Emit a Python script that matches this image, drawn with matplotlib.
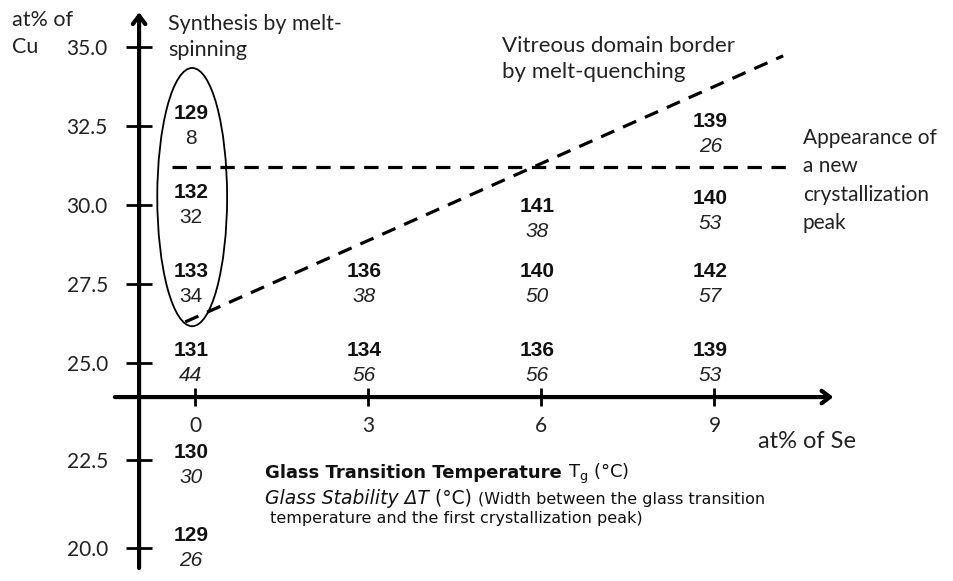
import matplotlib
matplotlib.use('Agg')
import matplotlib.pyplot as plt
from matplotlib.patches import Ellipse
from matplotlib.offsetbox import TextArea, HPacker, VPacker, AnnotationBbox
import numpy as np

# compositions (at% Se, at% Cu) where each value pair is drawn, and values
se = [0, 0, 0, 0, 0, 0, 3, 3, 6, 6, 6, 9, 9, 9, 9]
cu = [32.5, 30, 27.5, 25, 22.35, 20, 27.5, 25, 29.55, 27.5, 25, 32.25, 29.8, 27.5, 25]
tg = [129, 132, 133, 131, 130, 129, 136, 134, 141, 140, 136, 139, 140, 142, 139]
dt = [8, 32, 34, 44, 30, 26, 38, 56, 38, 50, 56, 26, 53, 57, 53]
melt_spun = [True, True, True] + [False] * 12

y_ticks = [20.0, 22.5, 25.0, 27.5, 30.0, 32.5, 35.0]
x_ticks = [0, 3, 6, 9]

# dashed guide lines
border_se = [-0.17, 10.19]
border_cu = [26.3, 34.72]
peak_se = [-0.4, 10.3]
peak_cu = 31.2

# ellipse around melt-spun samples
ell_center = (-0.05, 30.25)
ell_w, ell_h = 1.21, 8.17

# broken y axis: below the Se axis the spacing is stretched
brk_vals = np.array([18, 20, 22.5, 24, 25, 35, 37])
brk_pix = np.array([618, 548, 460, 397, 363, 47, -16])


def fwd(v):
    return -np.interp(v, brk_vals, brk_pix)


def inv(p):
    return np.interp(-np.asarray(p), brk_pix[::-1], brk_vals[::-1])


NUM = 'Liberation Sans'
LBL = 'Lato'
LEG = 'DejaVu Sans'
TXT = '#222222'

fig = plt.figure(figsize=(9.54, 5.81), dpi=100)
ax = fig.add_axes([0, 0, 1, 1])
ax.set_yscale('function', functions=(fwd, inv))
ax.set_xlim(-3.38, 13.15)
ax.set_ylim(19.06, 36.49)

x_axis_y = 24.0
y_axis_x = -0.97

for s in ['top', 'right']:
    ax.spines[s].set_visible(False)
ax.spines['left'].set_position(('data', y_axis_x))
ax.spines['bottom'].set_position(('data', x_axis_y))
ax.spines['left'].set_color('none')
ax.spines['bottom'].set_color('none')

ax.set_yticks(y_ticks)
ax.set_yticklabels(['%.1f' % v for v in y_ticks])
ax.yaxis.set_minor_locator(matplotlib.ticker.NullLocator())
ax.set_xticks(x_ticks)
ax.set_xticklabels([str(v) for v in x_ticks])
ax.tick_params(axis='y', direction='inout', length=19, width=2, pad=13,
               labelsize=15, colors='black')
ax.tick_params(axis='x', direction='inout', length=13, width=2, pad=7,
               labelsize=15, colors='black')
for lab in ax.get_xticklabels() + ax.get_yticklabels():
    lab.set_family(LBL)
    lab.set_color(TXT)

arrow = dict(arrowstyle='->,head_length=0.6,head_width=0.45', lw=3,
             color='black', shrinkA=0, shrinkB=0)
ax.annotate('', xy=(y_axis_x, 36.1), xytext=(y_axis_x, 19.43), arrowprops=arrow,
            annotation_clip=False)
ax.annotate('', xy=(11.06, x_axis_y), xytext=(-1.39, x_axis_y), arrowprops=arrow,
            annotation_clip=False)

# guide lines
ax.plot(border_se, border_cu, color='black', lw=2.3, ls=(0, (4.5, 3)))
ax.plot(peak_se, [peak_cu, peak_cu], color='black', lw=2.3, ls=(0, (4.5, 3)))
ax.add_patch(Ellipse(ell_center, ell_w, ell_h, fc='none', ec='black', lw=1.3))

# values
for x, y, t, d, ms in zip(se, cu, tg, dt, melt_spun):
    ax.annotate(str(t), xy=(x, y), xytext=(-3, 9), textcoords='offset points',
                ha='center', va='center', fontsize=15, fontweight='bold',
                family=NUM, color='#111111')
    ax.annotate(str(d), xy=(x, y), xytext=(-3, -9), textcoords='offset points',
                ha='center', va='center', fontsize=15,
                style='normal' if ms else 'italic', family=NUM, color=TXT)

# labels
W, H = 954, 581
fig.text(12 / W, 1 - 20 / H, 'at% of', family=LBL, fontsize=15.5,
         va='center', ha='left', color=TXT)
fig.text(12 / W, 1 - 47 / H, 'Cu', family=LBL, fontsize=15.5,
         va='center', ha='left', color=TXT)
fig.text(168 / W, 1 - 14 / H, 'Synthesis by melt-\nspinning', family=LBL,
         fontsize=15.5, va='top', ha='left', linespacing=1.37, color=TXT)
fig.text(502 / W, 1 - 36 / H, 'Vitreous domain border\nby melt-quenching',
         family=LBL, fontsize=16, va='top', ha='left', linespacing=1.37,
         color=TXT)
fig.text(803 / W, 1 - 128 / H, 'Appearance of\na new\ncrystallization\npeak',
         family=LBL, fontsize=15, va='top', ha='left', linespacing=1.52,
         color=TXT)
fig.text(758 / W, 1 - 442 / H, 'at% of Se', family=LBL, fontsize=17,
         va='center', ha='left', color=TXT)


# legend block
def ta(s, **kw):
    props = dict(family=LEG, color='#111111')
    props.update(kw)
    return TextArea(s, textprops=props)


line1 = HPacker(children=[ta('Glass Transition Temperature ', fontsize=13, fontweight='bold'),
                          ta(r'T$_\mathregular{g}$ (°C)', fontsize=13)],
                pad=0, sep=0, align='baseline')
line2 = HPacker(children=[ta('Glass Stability ΔT', fontsize=13.5, style='italic'),
                          ta(' (°C) ', fontsize=13.5),
                          ta('(Width between the glass transition', fontsize=11.5)],
                pad=0, sep=0, align='baseline')
line3 = HPacker(children=[ta(' temperature and the first crystallization peak)', fontsize=11.5)],
                pad=0, sep=0, align='baseline')
block = VPacker(children=[line1, line2, line3], pad=0, sep=2, align='left')
ab = AnnotationBbox(block, (265 / W, 1 - 462 / H), xycoords='figure fraction',
                    box_alignment=(0, 1), frameon=False, pad=0)
ax.add_artist(ab)

fig.savefig('out.png', dpi=100)
